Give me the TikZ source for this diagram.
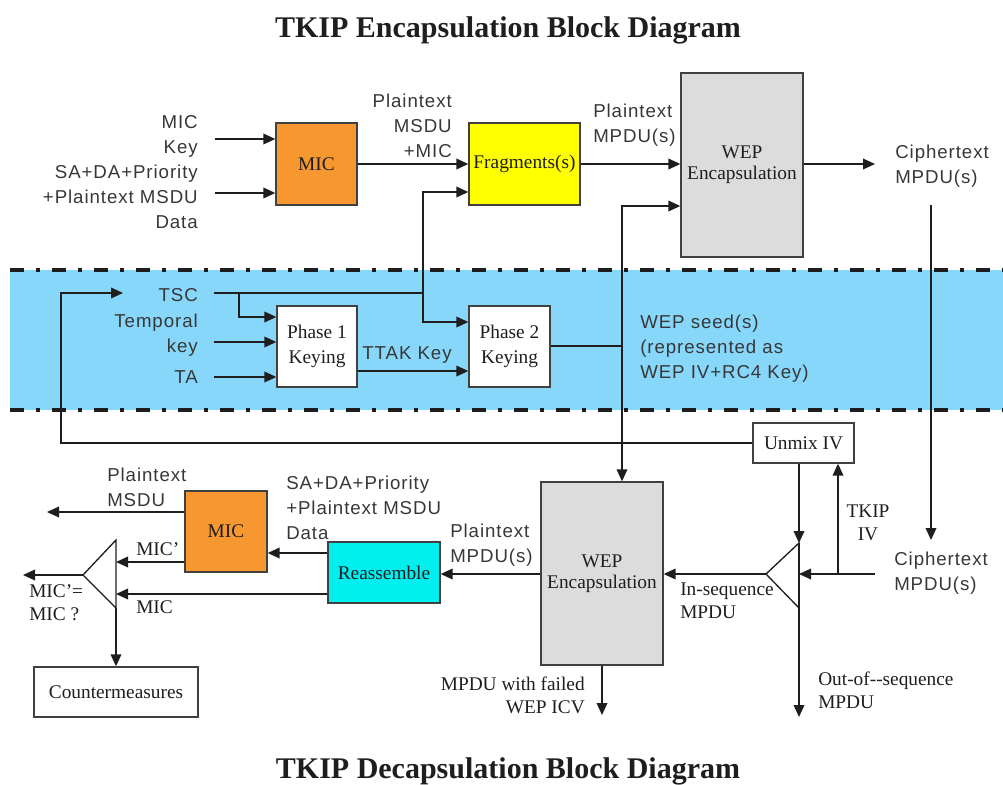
\documentclass[tikz,border=0pt]{standalone}
\usepackage{fontspec}
\setmainfont{Liberation Serif}
\newfontfamily\labfont[LetterSpace=5]{Liberation Sans}
\usetikzlibrary{arrows.meta,calc}
\definecolor{bandblue}{RGB}{135,215,251}
\definecolor{micorange}{RGB}{247,151,48}
\definecolor{fragyellow}{RGB}{255,255,0}
\definecolor{wepgray}{RGB}{220,220,220}
\definecolor{reascyan}{RGB}{0,240,240}
\definecolor{ink}{RGB}{30,30,30}
\definecolor{labgray}{RGB}{55,55,55}

\begin{document}
\begin{tikzpicture}[x=0.75pt,y=-0.75pt,
  blk/.style={draw=ink!85, line width=1pt, inner sep=0pt, align=center,
    text=ink, font=\fontsize{14.5}{18.5}\selectfont},
  conn/.style={draw=ink, line width=1.1pt},
  arr/.style={conn, -{Triangle[length=9pt,width=8pt]}},
  trishape/.style={draw=ink, line width=1pt},
  sanslbl/.style={inner sep=0pt, text=labgray, font=\labfont\fontsize{14}{18.75}\selectfont},
  seriflbl/.style={inner sep=0pt, text=ink, font=\fontsize{14.5}{17.5}\selectfont},
  ttl/.style={inner sep=0pt, text=ink, font=\bfseries\fontsize{22.5}{27}\selectfont},
  dashdot/.style={line width=3pt, draw=ink, dash pattern=on 10.5pt off 9pt on 3pt off 9pt}
]
\useasboundingbox (0,0) rectangle (1003,785);

% key-mixing band
\fill[bandblue] (10,270) rectangle (1003,410);
\draw[dashdot] (10,270) -- (1003,270);
\draw[dashdot] (10,410) -- (1003,410);

% titles
\node[ttl, anchor=base] (ttlE) at (508,37) {TKIP Encapsulation Block Diagram};
\node[ttl, anchor=base] (ttlD) at (508,778) {TKIP Decapsulation Block Diagram};

% ---------- encapsulation blocks ----------
\node[blk, fill=micorange, minimum width=60.75pt, minimum height=61.5pt] (micE) at (316.5,164) {MIC};
\node[blk, fill=fragyellow, minimum width=83.25pt, minimum height=61.5pt] (frag) at (524.5,164) {Fragments(s)};
\node[blk, fill=wepgray, font=\fontsize{14.5}{16}\selectfont, minimum width=91.5pt, minimum height=138pt] (wepE) at (742,165) {WEP\\Encapsulation};
\node[blk, fill=white, minimum width=60pt, minimum height=60.75pt] (ph1) at (317,346.5) {Phase 1\\Keying};
\node[blk, fill=white, minimum width=60.75pt, minimum height=60.75pt] (ph2) at (509.5,346.5) {Phase 2\\Keying};

% ---------- decapsulation blocks ----------
\node[blk, fill=white, minimum width=75.75pt, minimum height=30pt] (unmix) at (803.5,443) {Unmix IV};
\node[blk, fill=wepgray, font=\fontsize{14.5}{16}\selectfont, minimum width=91.5pt, minimum height=137.25pt] (wepD) at (602,573.5) {WEP\\Encapsulation};
\node[blk, fill=reascyan, minimum width=84pt, minimum height=45.75pt] (reas) at (384,572.5) {Reassemble};
\node[blk, fill=micorange, minimum width=61.5pt, minimum height=60.75pt] (micD) at (226,531.5) {MIC};
\node[blk, fill=white, minimum width=123pt, minimum height=37.5pt] (counter) at (116,692) {Countermeasures};

% selector and comparator triangles
\coordinate (muxT) at (799,543);
\coordinate (muxB) at (799,608);
\coordinate (muxL) at (766,574);
\draw[trishape] (muxT) -- (muxB) -- (muxL) -- cycle;
\coordinate (cmpT) at (116,540);
\coordinate (cmpB) at (116,608);
\coordinate (cmpL) at (83,575);
\draw[trishape] (cmpT) -- (cmpB) -- (cmpL) -- cycle;

% ---------- free ends and junctions ----------
\coordinate (keyIn) at (215,139);
\coordinate (dataIn) at (215,193);
\coordinate (cOut) at (875,164);
\coordinate (cTop) at (931,205);
\coordinate (cBot) at (931,540);
\coordinate (tscR) at (214,293);
\coordinate (j0) at (239,293);
\coordinate (j1) at (423,293);
\coordinate (tkIn) at (214,342);
\coordinate (taIn) at (214,377);
\coordinate (seed) at (622,346);
\coordinate (fbC) at (61,293);
\coordinate (tscTip) at (123,293);
\coordinate (cIn) at (875,574);
\coordinate (ivJ) at (838,574);
\coordinate (oosEnd) at (799,717);
\coordinate (failEnd) at (602,715);
\coordinate (msduOut) at (47,512);
\coordinate (cmpOut) at (23,575);

% ---------- encapsulation connectors ----------
\draw[arr] (keyIn) -- (keyIn -| micE.west);
\draw[arr] (dataIn) -- (dataIn -| micE.west);
\draw[arr] (micE) -- (frag);
\draw[arr] (frag.east) -- (frag.east -| wepE.west);
\draw[arr] (wepE.east |- frag.east) -- (cOut);
\draw[arr] (cTop) -- (cBot);
\draw[conn] (tscR) -- (j1);
\draw[arr] (j1) |- (frag.west |- 0,192);
\draw[arr] (j1) |- (ph2.west |- 0,322);
\draw[arr] (j0) |- (ph1.west |- 0,317);
\draw[arr] (tkIn) -- (tkIn -| ph1.west);
\draw[arr] (taIn) -- (taIn -| ph1.west);
\draw[arr] (ph1.east |- 0,371) -- (ph2.west |- 0,371);
\draw[conn] (ph2.east |- seed) -- (seed);
\draw[arr] (seed) |- (wepE.west |- 0,206);
\draw[arr] (seed) -- (seed |- wepD.north);

% ---------- decapsulation connectors ----------
\draw[arr] (unmix.west) -| (fbC) -- (tscTip);
\draw[arr] (unmix.south -| muxT) -- (muxT);
\draw[arr] (cIn) -- (muxT |- cIn);
\draw[arr] (ivJ) -- (ivJ |- unmix.south);
\draw[arr] (muxL) -- (wepD.east |- muxL);
\draw[conn] (muxT) -- (muxB);
\draw[arr] (muxB) -- (oosEnd);
\draw[arr] (wepD.south) -- (failEnd);
\draw[arr] (wepD.west |- 0,574) -- (reas.east |- 0,574);
\draw[arr] (reas.west |- 0,553) -- (micD.east |- 0,553);
\draw[arr] (micD.west |- 0,512) -- (msduOut);
\draw[arr] (micD.west |- 0,562) -- (cmpT |- 0,562);
\draw[arr] (reas.west |- 0,594) -- (cmpT |- 0,594);
\draw[arr] (cmpL) -- (cmpOut);
\draw[arr] (cmpB) -- (counter.north -| cmpB);

% ---------- encapsulation labels ----------
\node[sanslbl, anchor=east, align=right] (lMicIn) at (198,172) {MIC\\Key\\SA+DA+Priority\\+Plaintext MSDU\\Data};
\node[sanslbl, anchor=east, align=right] (lMsduMic) at (452,126) {Plaintext\\MSDU\\+MIC};
\node[sanslbl, anchor=west, align=left] (lPlainMpdu) at (593,125) {Plaintext\\MPDU(s)};
\node[sanslbl, anchor=west, align=left] (lCipherE) at (895,166) {Ciphertext\\MPDU(s)};
\node[sanslbl, anchor=east] (lTsc) at (198,295) {TSC};
\node[sanslbl, anchor=east, align=right] (lTk) at (198,335) {Temporal\\key};
\node[sanslbl, anchor=east] (lTa) at (198,377) {TA};
\node[sanslbl] (lTtak) at (407,355) {TTAK Key};
\node[sanslbl, anchor=west, align=left] (lSeed) at (640,349) {WEP seed(s)\\(represented as\\WEP IV+RC4 Key)};

% ---------- decapsulation labels ----------
\node[seriflbl, align=center] (lIv) at (868,523) {TKIP\\IV};
\node[sanslbl, anchor=west, align=left] (lCipherD) at (894,573) {Ciphertext\\MPDU(s)};
\node[seriflbl, anchor=west, align=left] (lInSeq) at (680,601) {In-sequence\\MPDU};
\node[seriflbl, anchor=west, align=left] (lOos) at (818,690) {Out-of-{}-sequence\\MPDU};
\node[seriflbl, anchor=east, align=right] (lFail) at (585,695) {MPDU with failed\\WEP ICV};
\node[sanslbl, anchor=west, align=left] (lPlainD) at (450,545) {Plaintext\\MPDU(s)};
\node[sanslbl, anchor=west, align=left] (lSaDa) at (286,508) {SA+DA+Priority\\+Plaintext MSDU\\Data};
\node[sanslbl, anchor=west, align=left] (lMsduD) at (107,487) {Plaintext\\MSDU};
\node[seriflbl, anchor=west] (lMicP) at (136,549) {MIC'};
\node[seriflbl, anchor=west] (lMic) at (136,607) {MIC};
\node[seriflbl, anchor=west, align=left] (lEq) at (29,603) {MIC'=\\MIC ?};
\end{tikzpicture}
\end{document}
